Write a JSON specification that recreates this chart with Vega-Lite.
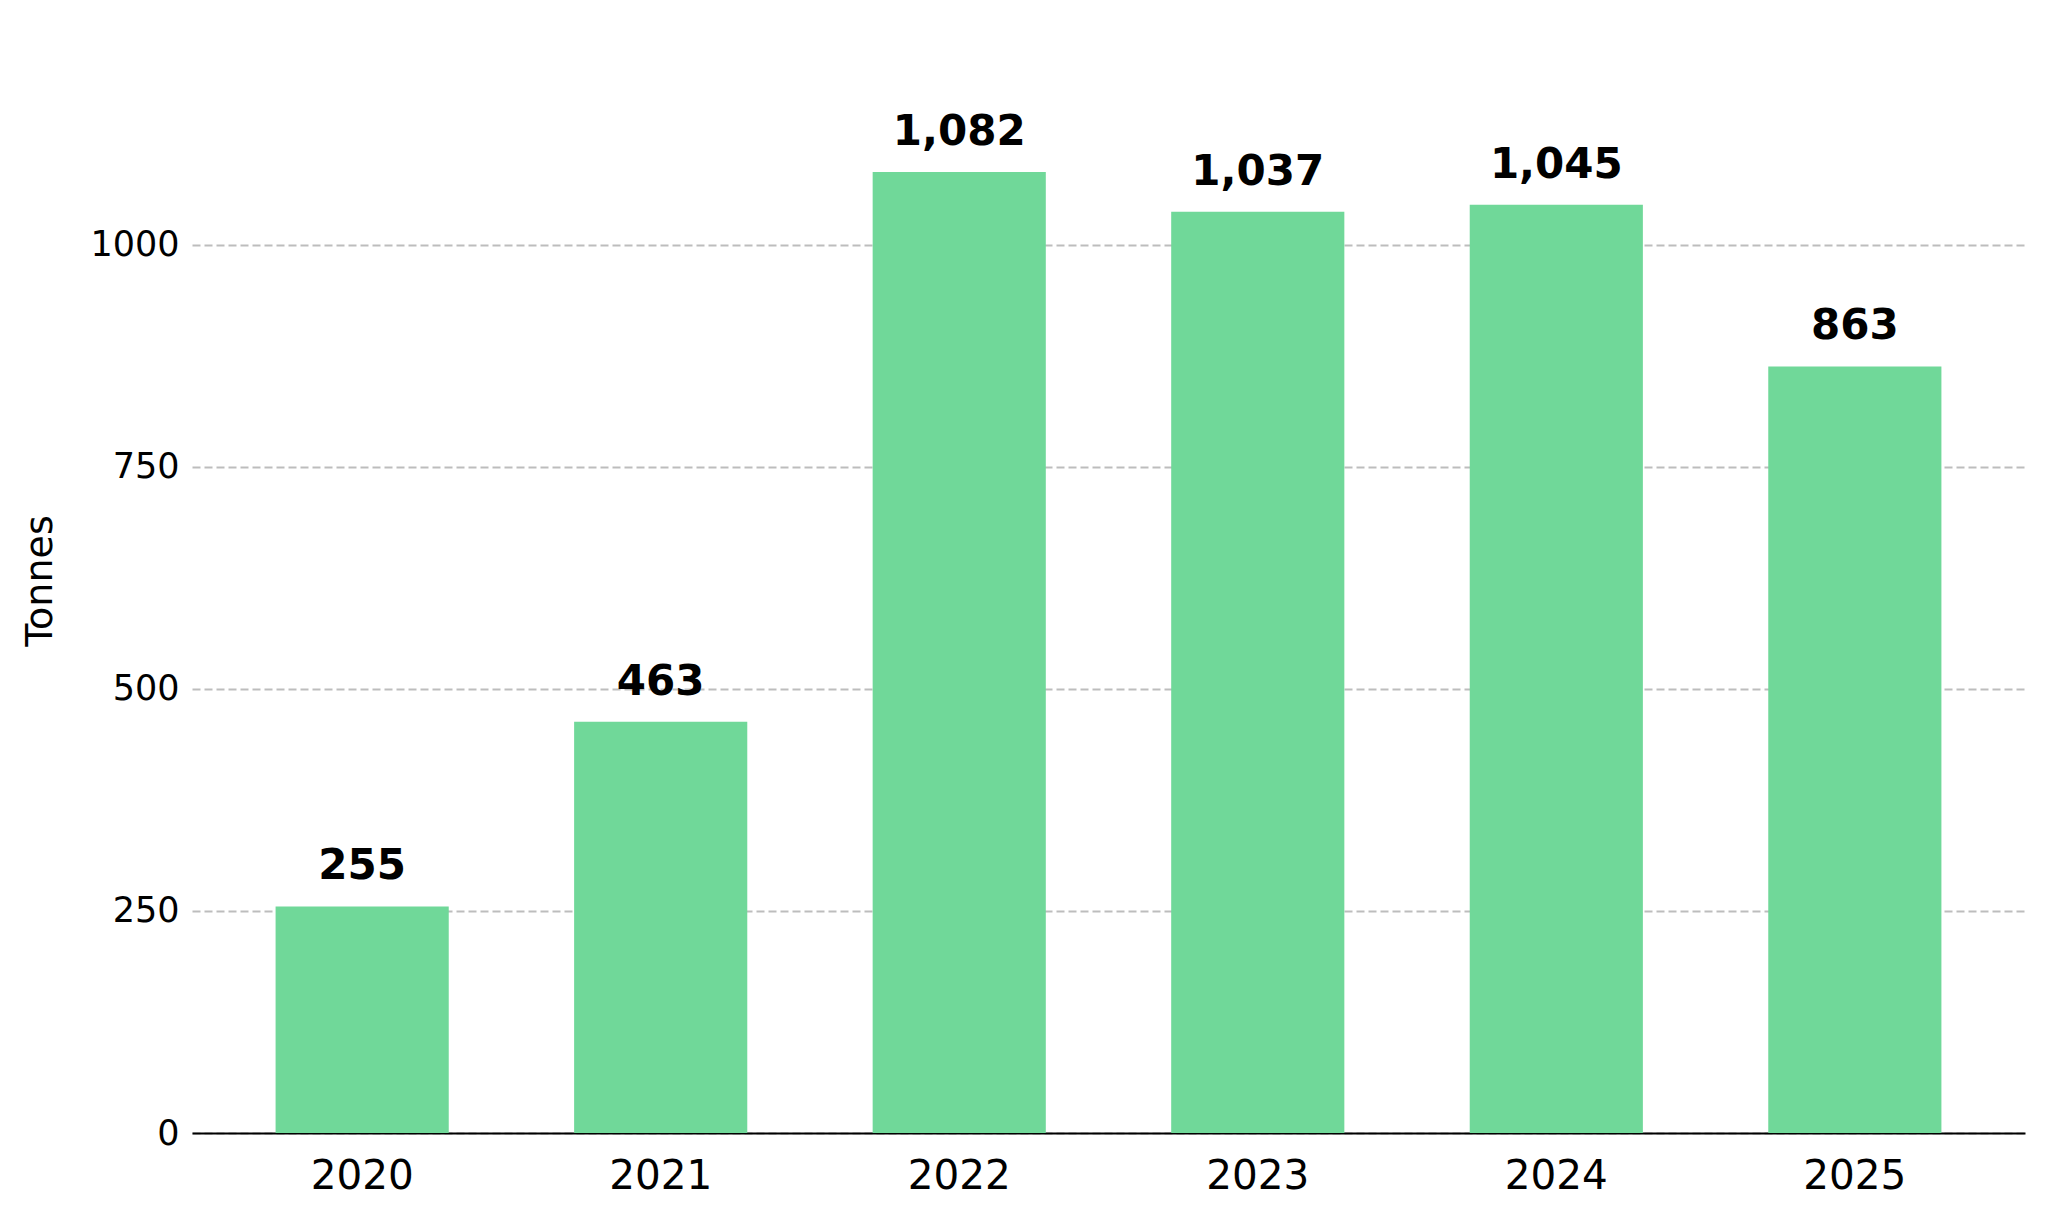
{
  "$schema": "https://vega.github.io/schema/vega-lite/v6.json",
  "autosize": {"type": "none"},
  "padding": {"left": 192, "top": 28, "right": 23, "bottom": 87},
  "width": 1833,
  "height": 1105,
  "background": "white",
  "config": {
    "view": {"stroke": null},
    "font": "DejaVu Sans"
  },
  "data": {
    "values": [
      {"year": "2020", "tonnes": 255},
      {"year": "2021", "tonnes": 463},
      {"year": "2022", "tonnes": 1082},
      {"year": "2023", "tonnes": 1037},
      {"year": "2024", "tonnes": 1045},
      {"year": "2025", "tonnes": 863}
    ]
  },
  "encoding": {
    "x": {
      "field": "year",
      "type": "ordinal",
      "sort": null,
      "scale": {"paddingInner": 0.42, "paddingOuter": 0.28},
      "axis": {
        "title": null,
        "labelAngle": 0,
        "labelFont": "DejaVu Sans",
        "labelFontSize": 40.5,
        "labelColor": "black",
        "labelPadding": 23,
        "ticks": false,
        "domainColor": "black",
        "domainWidth": 2,
        "grid": false
      }
    },
    "y": {
      "field": "tonnes",
      "type": "quantitative",
      "scale": {"domain": [0, 1244], "nice": false},
      "axis": {
        "title": "Tonnes",
        "titleFont": "DejaVu Sans",
        "titleFontSize": 38,
        "titleFontWeight": "normal",
        "titleColor": "black",
        "titlePadding": 30,
        "values": [0, 250, 500, 750, 1000],
        "format": "d",
        "labelFont": "DejaVu Sans",
        "labelFontSize": 35,
        "labelColor": "black",
        "labelPadding": 13,
        "ticks": false,
        "domain": false,
        "grid": true,
        "gridColor": "#bdbdbd",
        "gridWidth": 2,
        "gridDash": [8, 4]
      }
    }
  },
  "layer": [
    {
      "mark": {"type": "bar", "color": "#70d899"}
    },
    {
      "mark": {
        "type": "text",
        "baseline": "alphabetic",
        "align": "center",
        "dy": -27,
        "font": "DejaVu Sans",
        "fontSize": 42,
        "fontWeight": "bold",
        "color": "black"
      },
      "encoding": {
        "text": {"field": "tonnes", "type": "quantitative", "format": ","}
      }
    }
  ]
}
